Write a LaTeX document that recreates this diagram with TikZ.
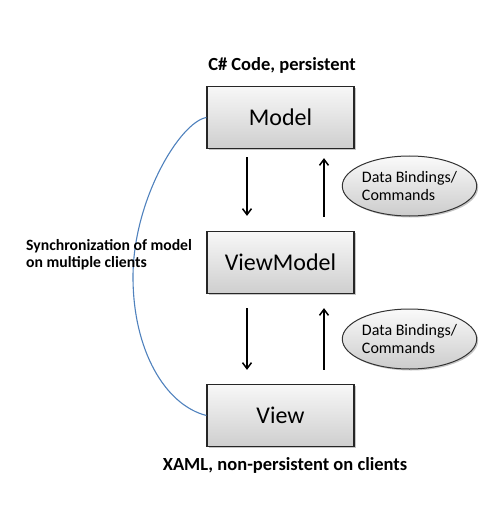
\documentclass[tikz,border=0pt]{standalone}
\usepackage{fontspec}
\setmainfont{Carlito}
\usetikzlibrary{shapes.geometric,arrows.meta,shadows}
\definecolor{syncblue}{RGB}{79,129,189}
\tikzset{
  box/.style={draw=black!85, line width=1.2pt, rectangle, minimum width=147pt, minimum height=62pt,
    inner sep=0pt, top color=gray!6, bottom color=gray!38, font=\fontsize{24}{28}\selectfont,
    drop shadow={shadow xshift=1.5pt, shadow yshift=-1.5pt, opacity=0.45}},
  bubble/.style={draw=black!80, line width=1pt, ellipse, minimum width=133pt, minimum height=60pt,
    inner sep=0pt, top color=gray!4, bottom color=gray!40, align=left,
    font=\fontsize{16}{18}\selectfont,
    drop shadow={shadow xshift=1.5pt, shadow yshift=-1.5pt, opacity=0.45}},
  arr/.style={-{Straight Barb[length=6pt,width=9pt]}, line width=1.5pt, black},
  lbl/.style={font=\bfseries\fontsize{18.5}{21}\selectfont, inner sep=0pt},
  synclbl/.style={font=\bfseries\fontsize{15.7}{17}\selectfont, align=left, inner sep=0pt, anchor=west},
}
\begin{document}
\begin{tikzpicture}[x=1pt,y=-1pt]
\useasboundingbox (0,0) rectangle (493,505);
% boxes
\node[box] (model) at (280.5,117.5) {Model};
\node[box] (vm) at (280.5,262.5) {ViewModel};
\node[box] (view) at (280.5,415.5) {View};
% labels
\node[lbl] (top) at (282,65) {C\# Code, persistent};
\node[lbl] (bot) at (285,465) {XAML, non-persistent on clients};
% bubbles
\node[bubble] (b1) at (409.5,186) {Data Bindings/\\Commands};
\node[bubble] (b2) at (409.5,339) {Data Bindings/\\Commands};
% arrows
\draw[arr, shorten <=8pt, shorten >=15pt] ([xshift=-33.5pt]model.south) -- ([xshift=-33.5pt]vm.north);
\draw[arr, shorten <=14pt, shorten >=9pt] ([xshift=43.5pt]vm.north) -- ([xshift=43.5pt]model.south);
\draw[arr, shorten <=14pt, shorten >=14pt] ([xshift=-33.5pt]vm.south) -- ([xshift=-33.5pt]view.north);
\draw[arr, shorten <=14pt, shorten >=14pt] ([xshift=43.5pt]view.north) -- ([xshift=43.5pt]vm.south);
% sync curve
\coordinate (sy) at (133,277);
\draw[syncblue, line width=1.1pt] (model.west) .. controls (180,122) and (133,200) .. (sy)
  .. controls (133,350) and (165,405) .. (view.west);
\node[synclbl] (synctext) at (26,255) {Synchronization of model\\on multiple clients};
\end{tikzpicture}
\end{document}
